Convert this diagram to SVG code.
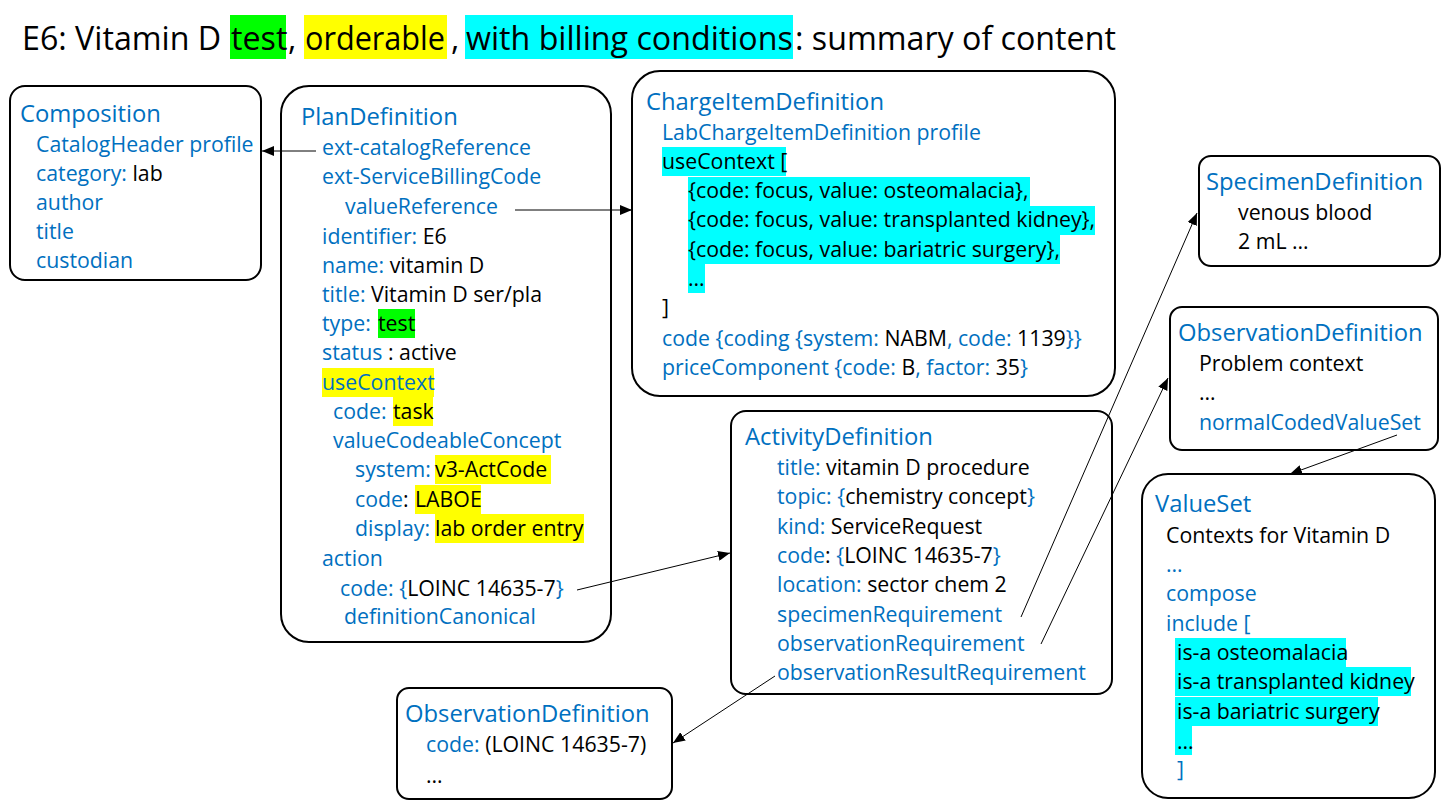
<svg xmlns="http://www.w3.org/2000/svg" width="1453" height="808" viewBox="0 0 1453 808">
<style>
text{font-family:"Open Sans","Noto Sans","Liberation Sans",sans-serif;}
.t{font-size:32.2px;fill:#000}
.h{font-size:23.8px;fill:#0070C0}
.b{font-size:21.3px;fill:#0070C0}
.k{fill:#000}
.box{fill:#fff;stroke:#000;stroke-width:2}
.g{fill:#00FF00}.y{fill:#FFFF00}.c{fill:#00FFFF}
.ln{stroke:#000;stroke-width:1;fill:none;marker-end:url(#ah)}
</style>
<defs>
<marker id="ah" viewBox="0 0 12 10" refX="12" refY="5" markerWidth="12" markerHeight="10" markerUnits="userSpaceOnUse" orient="auto">
<path d="M0,0 L12,5 L0,10 z" fill="#000"/>
</marker>
</defs>
<rect width="1453" height="808" fill="#fff"/>
<g id="title">
<rect class="g" x="230" y="15" width="56" height="44"/>
<rect class="y" x="304" y="15" width="143" height="44"/>
<rect class="c" x="465" y="15" width="328" height="44"/>
<text class="t" y="50"><tspan x="22">E6: Vitamin D </tspan><tspan x="231">test</tspan><tspan x="288">,</tspan><tspan x="305" textLength="140" lengthAdjust="spacingAndGlyphs">orderable</tspan><tspan x="451">,</tspan><tspan x="466">with billing conditions</tspan><tspan x="795">: summary of content</tspan></text>
</g>
<g id="composition">
<rect class="box" x="10" y="86" width="251" height="194" rx="15"/>
<text class="h" x="20" y="122">Composition</text>
<text class="b" x="36" y="152">CatalogHeader profile</text>
<text class="b" x="36" y="181">category: <tspan class="k">lab</tspan></text>
<text class="b" x="36" y="210">author</text>
<text class="b" x="36" y="239">title</text>
<text class="b" x="36" y="268">custodian</text>
</g>
<g id="plandefinition">
<rect class="box" x="281" y="86" width="330" height="556" rx="28"/>
<rect class="g" x="378" y="309" width="37" height="29"/>
<rect class="y" x="322" y="368" width="112" height="29"/>
<rect class="y" x="393" y="397" width="40" height="29"/>
<rect class="y" x="435" y="455" width="116" height="29"/>
<rect class="y" x="415" y="485" width="66" height="29"/>
<rect class="y" x="435" y="514" width="149" height="29"/>
<text class="h" x="301" y="125">PlanDefinition</text>
<text class="b" x="322" y="155">ext-catalogReference</text>
<text class="b" x="322" y="184">ext-ServiceBillingCode</text>
<text class="b" x="345" y="214">valueReference</text>
<text class="b" x="322" y="244">identifier: <tspan class="k">E6</tspan></text>
<text class="b" x="322" y="273">name: <tspan class="k">vitamin D</tspan></text>
<text class="b" x="322" y="302">title: <tspan class="k">Vitamin D ser/pla</tspan></text>
<text class="b" x="322" y="331">type: <tspan class="k" x="378">test</tspan></text>
<text class="b" x="322" y="360">status<tspan class="k"> : active</tspan></text>
<text class="b" x="322" y="390">useContext</text>
<text class="b" x="333" y="419">code: <tspan class="k" x="393">task</tspan></text>
<text class="b" x="333" y="448">valueCodeableConcept</text>
<text class="b" x="355" y="477">system: <tspan class="k" x="435">v3-ActCode</tspan></text>
<text class="b" x="355" y="507">code<tspan class="k">: </tspan><tspan class="k" x="415">LABOE</tspan></text>
<text class="b" x="355" y="536">display: <tspan class="k" x="435">lab order entry</tspan></text>
<text class="b" x="322" y="566">action</text>
<text class="b" x="340" y="596">code: {<tspan class="k">LOINC 14635-7</tspan>}</text>
<text class="b" x="344" y="624">definitionCanonical</text>
</g>
<g id="chargeitemdefinition">
<rect class="box" x="632" y="71" width="483" height="325" rx="28"/>
<rect class="c" x="662" y="147" width="124" height="29"/>
<rect class="c" x="688" y="177" width="342" height="29"/>
<rect class="c" x="688" y="206" width="407" height="29"/>
<rect class="c" x="688" y="235" width="372" height="29"/>
<rect class="c" x="688" y="264" width="17" height="29"/>
<text class="h" x="646" y="110">ChargeItemDefinition</text>
<text class="b" x="662" y="140">LabChargeItemDefinition profile</text>
<text class="b k" x="662" y="169">useContext [</text>
<text class="b k" x="688" y="198">{code: focus, value: osteomalacia},</text>
<text class="b k" x="688" y="227">{code: focus, value: transplanted kidney},</text>
<text class="b k" x="688" y="257">{code: focus, value: bariatric surgery},</text>
<text class="b k" x="688" y="286">…</text>
<text class="b k" x="662" y="315">]</text>
<text class="b" x="662" y="346">code {coding {system: <tspan class="k">NABM</tspan>, code: <tspan class="k">1139</tspan>}}</text>
<text class="b" x="662" y="375">priceComponent {code: <tspan class="k">B</tspan>, factor: <tspan class="k">35</tspan>}</text>
</g>
<g id="specimendefinition">
<rect class="box" x="1199" y="156" width="241" height="110" rx="12"/>
<text class="h" x="1206" y="190">SpecimenDefinition</text>
<text class="b k" x="1238" y="220">venous blood</text>
<text class="b k" x="1238" y="249">2 mL …</text>
</g>
<g id="observationdefinition-right">
<rect class="box" x="1170" y="307" width="268" height="143" rx="12"/>
<text class="h" x="1178" y="341">ObservationDefinition</text>
<text class="b k" x="1199" y="371">Problem context</text>
<text class="b k" x="1199" y="400">…</text>
<text class="b" x="1199" y="430">normalCodedValueSet</text>
</g>
<g id="valueset">
<rect class="box" x="1142" y="474" width="293" height="324" rx="26"/>
<rect class="c" x="1175" y="638" width="171" height="29"/>
<rect class="c" x="1175" y="667" width="236" height="29"/>
<rect class="c" x="1175" y="697" width="203" height="29"/>
<rect class="c" x="1175" y="726" width="17" height="29"/>
<text class="h" x="1155" y="512">ValueSet</text>
<text class="b k" x="1166" y="543">Contexts for Vitamin D</text>
<text class="b" x="1166" y="572">…</text>
<text class="b" x="1166" y="601">compose</text>
<text class="b" x="1166" y="631">include [</text>
<text class="b k" x="1177" y="660">is-a osteomalacia</text>
<text class="b k" x="1177" y="689">is-a transplanted kidney</text>
<text class="b k" x="1177" y="719">is-a bariatric surgery</text>
<text class="b k" x="1177" y="749">…</text>
<text class="b" x="1177" y="777">]</text>
</g>
<g id="activitydefinition">
<rect class="box" x="731" y="411" width="381" height="283" rx="15"/>
<text class="h" x="745" y="445">ActivityDefinition</text>
<text class="b" x="777" y="475">title: <tspan class="k">vitamin D procedure</tspan></text>
<text class="b" x="777" y="504">topic: {<tspan class="k">chemistry concept</tspan>}</text>
<text class="b" x="777" y="534">kind: <tspan class="k">ServiceRequest</tspan></text>
<text class="b" x="777" y="563">code<tspan class="k">: </tspan>{<tspan class="k">LOINC 14635-7</tspan>}</text>
<text class="b" x="777" y="592">location: <tspan class="k">sector chem 2</tspan></text>
<text class="b" x="777" y="622">specimenRequirement</text>
<text class="b" x="777" y="651">observationRequirement</text>
<text class="b" x="777" y="680">observationResultRequirement</text>
</g>
<g id="observationdefinition-bottom">
<rect class="box" x="397" y="688" width="275" height="111" rx="12"/>
<text class="h" x="405" y="722">ObservationDefinition</text>
<text class="b" x="426" y="752">code: <tspan class="k">(LOINC 14635-7)</tspan></text>
<text class="b k" x="426" y="783">…</text>
</g>
<g id="connectors">
<line class="ln" x1="316" y1="151" x2="262" y2="151"/>
<line class="ln" x1="515" y1="210" x2="632" y2="210"/>
<line class="ln" x1="577" y1="590" x2="730" y2="553"/>
<line class="ln" x1="1021" y1="617" x2="1197" y2="213"/>
<line class="ln" x1="1041" y1="644" x2="1168" y2="378"/>
<line class="ln" x1="1397" y1="435" x2="1290" y2="474"/>
<line class="ln" x1="775" y1="676" x2="673" y2="743"/>
</g>
</svg>
